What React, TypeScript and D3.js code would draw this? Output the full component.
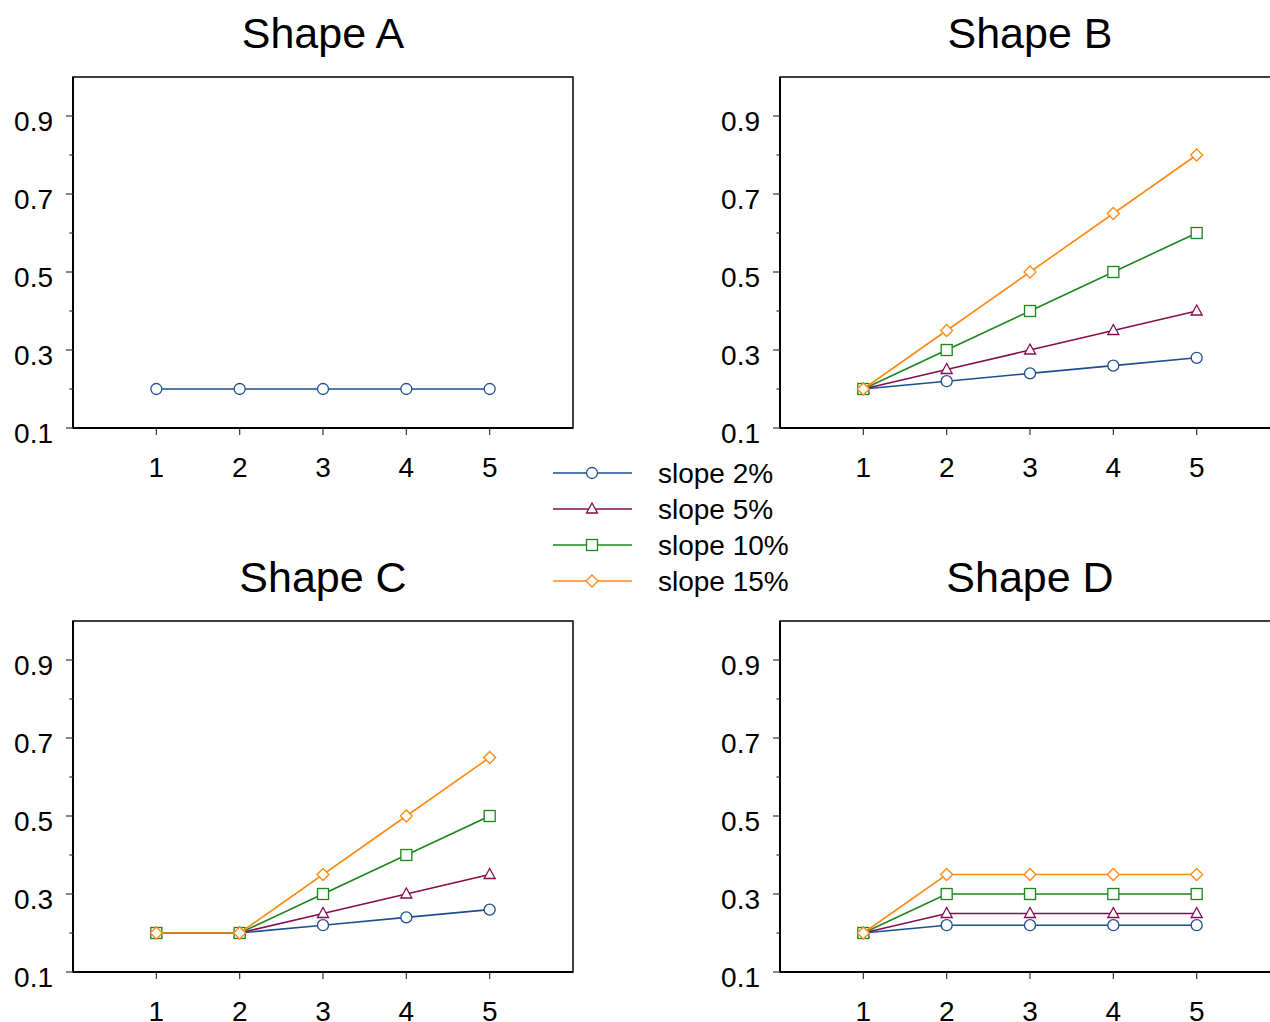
import React from "react";
import * as d3 from "d3";

const WIDTH = 1270;
const HEIGHT = 1022;

const xValues = [1, 2, 3, 4, 5];
const yTickValues = [0.1, 0.3, 0.5, 0.7, 0.9];
const yMinorTicks = [0.2, 0.4, 0.6, 0.8];

const seriesNames = ["slope 2%", "slope 5%", "slope 10%", "slope 15%"];
const seriesColors = ["#1c4f8e", "#850c4f", "#1a871a", "#ff8a12"];
const seriesMarkers = ["circle", "triangle", "square", "diamond"];

// panel A only shows the 2% line
const shapeA = [[0.2, 0.2, 0.2, 0.2, 0.2]];
const shapeB = [
  [0.2, 0.22, 0.24, 0.26, 0.28],
  [0.2, 0.25, 0.3, 0.35, 0.4],
  [0.2, 0.3, 0.4, 0.5, 0.6],
  [0.2, 0.35, 0.5, 0.65, 0.8],
];
const shapeC = [
  [0.2, 0.2, 0.22, 0.24, 0.26],
  [0.2, 0.2, 0.25, 0.3, 0.35],
  [0.2, 0.2, 0.3, 0.4, 0.5],
  [0.2, 0.2, 0.35, 0.5, 0.65],
];
const shapeD = [
  [0.2, 0.22, 0.22, 0.22, 0.22],
  [0.2, 0.25, 0.25, 0.25, 0.25],
  [0.2, 0.3, 0.3, 0.3, 0.3],
  [0.2, 0.35, 0.35, 0.35, 0.35],
];

const panels = [
  { title: "Shape A", data: shapeA, left: 73, top: 77 },
  { title: "Shape B", data: shapeB, left: 780, top: 77 },
  { title: "Shape C", data: shapeC, left: 73, top: 621 },
  { title: "Shape D", data: shapeD, left: 780, top: 621 },
];

const FONT = "'Liberation Sans', Arial, Helvetica, sans-serif";
const PW = 500;
const PH = 351;

function Marker({ type, x, y, color }) {
  const common = { fill: "#fff", stroke: color, strokeWidth: 1.3 };
  if (type === "circle") return <circle cx={x} cy={y} r={5.5} {...common} />;
  if (type === "square")
    return <rect x={x - 5.5} y={y - 5.5} width={11} height={11} {...common} />;
  if (type === "triangle")
    return (
      <path d={`M${x},${y - 6} L${x + 5.5},${y + 4} L${x - 5.5},${y + 4} Z`} {...common} />
    );
  return (
    <path d={`M${x},${y - 6} L${x + 6},${y} L${x},${y + 6} L${x - 6},${y} Z`} {...common} />
  );
}

function Panel({ title, data, left, top }) {
  const x = d3.scaleLinear().domain([0, 6]).range([left, left + PW]);
  const y = d3.scaleLinear().domain([0.1, 1.0]).range([top + PH, top]);
  const line = d3
    .line<number>()
    .x((_, i) => x(xValues[i]))
    .y((d) => y(d));

  return (
    <g>
      <text
        x={left + PW / 2}
        y={top - 29}
        textAnchor="middle"
        fontSize={43}
        fontFamily={FONT}
      >
        {title}
      </text>

      {/* frame */}
      <rect x={left} y={top} width={PW} height={PH} fill="none" stroke="#000" strokeWidth={1.5} />
      <line x1={left} x2={left + PW} y1={top + PH} y2={top + PH} stroke="#000" strokeWidth={2} />
      <line x1={left} x2={left} y1={top} y2={top + PH} stroke="#000" strokeWidth={2} />

      {/* y ticks */}
      {yTickValues.map((t) => (
        <g key={t}>
          <line x1={left - 7} x2={left} y1={y(t)} y2={y(t)} stroke="#333" strokeWidth={1.2} />
          <text
            x={left - 20}
            y={y(t) + 15}
            textAnchor="end"
            fontSize={28}
            fontFamily={FONT}
          >
            {t.toFixed(1)}
          </text>
        </g>
      ))}
      {yMinorTicks.map((t) => (
        <line key={t} x1={left - 3.5} x2={left} y1={y(t)} y2={y(t)} stroke="#333" strokeWidth={1.2} />
      ))}

      {/* x ticks */}
      {xValues.map((t) => (
        <g key={t}>
          <line x1={x(t)} x2={x(t)} y1={top + PH} y2={top + PH + 7} stroke="#333" strokeWidth={1.2} />
          <text
            x={x(t)}
            y={top + PH + 49}
            textAnchor="middle"
            fontSize={28}
            fontFamily={FONT}
          >
            {t}
          </text>
        </g>
      ))}

      {/* series */}
      {data.map((vals, si) => (
        <g key={si}>
          <path d={line(vals) || ""} fill="none" stroke={seriesColors[si]} strokeWidth={1.6} />
          {vals.map((v, i) => (
            <Marker
              key={i}
              type={seriesMarkers[si]}
              x={x(xValues[i])}
              y={y(v)}
              color={seriesColors[si]}
            />
          ))}
        </g>
      ))}
    </g>
  );
}

function Legend() {
  return (
    <g>
      {seriesNames.map((name, i) => {
        const yy = 473 + i * 36;
        return (
          <g key={name}>
            <line x1={553} x2={632} y1={yy} y2={yy} stroke={seriesColors[i]} strokeWidth={1.6} />
            <Marker type={seriesMarkers[i]} x={592} y={yy} color={seriesColors[i]} />
            <text x={658} y={yy + 10} fontSize={28} fontFamily={FONT}>
              {name}
            </text>
          </g>
        );
      })}
    </g>
  );
}

export default function App() {
  return (
    <svg
      width={WIDTH}
      height={HEIGHT}
      style={{ position: "absolute", left: 0, top: 0, background: "#fff" }}
    >
      {panels.map((p) => (
        <Panel key={p.title} {...p} />
      ))}
      <Legend />
    </svg>
  );
}
